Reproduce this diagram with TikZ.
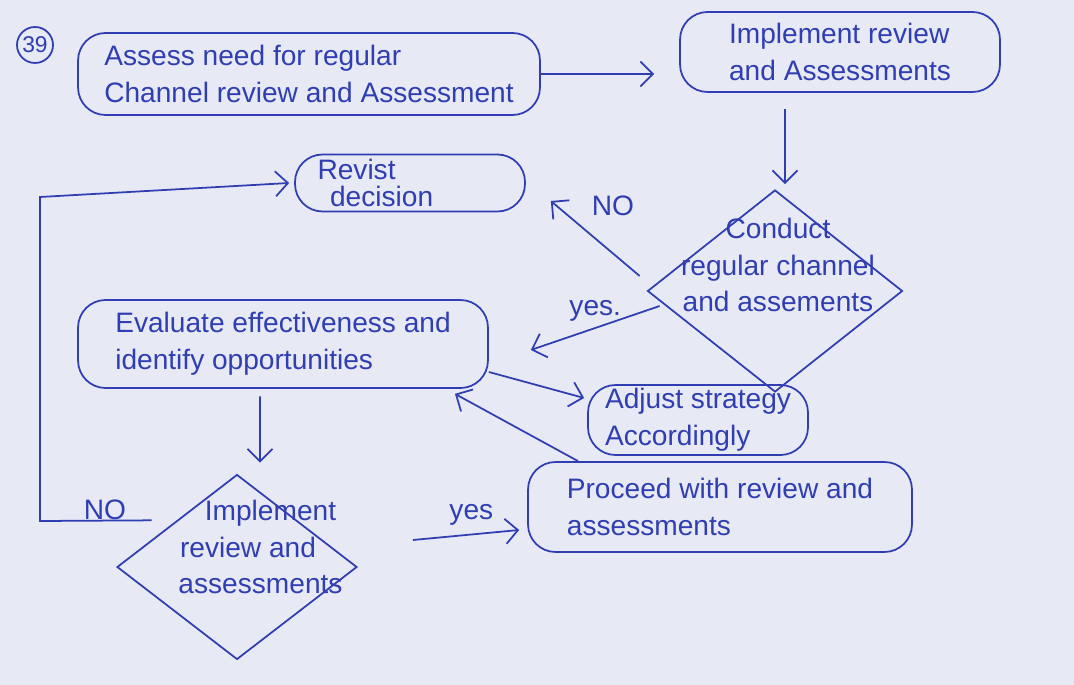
\documentclass[tikz,border=0pt]{standalone}
\usepackage{fontspec}
\setmainfont{Liberation Sans}
\usetikzlibrary{arrows.meta,shapes.geometric}
\definecolor{ink}{RGB}{48,62,178}
\definecolor{paper}{RGB}{231,233,245}

\begin{document}
\begin{tikzpicture}[x=0.02cm,y=-0.02cm,font=\fontsize{16}{21}\selectfont,
  box/.style={draw=ink,text=ink,line width=1pt,rounded corners=0.55cm,align=left,inner sep=0pt},
  decide/.style={draw=ink,diamond,line width=1pt,inner sep=0pt},
  lbl/.style={text=ink},
  arr/.style={draw=ink,line width=1pt,-{Straight Barb[length=2.5mm,width=5mm]}}]
\fill[paper] (0,0) rectangle (1074,685);
\useasboundingbox (0,0) rectangle (1074,685);
\node[draw=ink,circle,lbl,line width=1pt,inner sep=1pt,minimum size=0.72cm,font=\fontsize{13}{15}\selectfont] (num) at (35,45) {39};
\node[box,minimum width=9.24cm,minimum height=1.64cm] (assess) at (309,74) {Assess need for regular\\Channel review and Assessment};
\node[box,minimum width=6.4cm,minimum height=1.6cm] (impl) at (840,52) {Implement review\\and Assessments};
\node[box,minimum height=1.14cm,text width=3.7cm,inner xsep=0.45cm,font=\fontsize{16}{15}\selectfont] (rev) at (410,183) {Revist\\\hspace*{0.25cm}decision};
\node[decide,minimum width=5.1cm,minimum height=4.04cm] (cond) at (775,291) {};
\node[lbl,align=center] (condtxt) at (778,265) {Conduct\\regular channel\\and assements};
\node[box,minimum width=8.2cm,minimum height=1.76cm] (eval) at (283,344) {Evaluate effectiveness and\\identify opportunities};
\node[box,minimum width=4.4cm,minimum height=1.4cm] (adj) at (698,420) {Adjust strategy\\Accordingly};
\node[box,minimum width=7.68cm,minimum height=1.8cm] (proc) at (720,507) {Proceed with review and\\assessments};
\node[decide,minimum width=4.8cm,minimum height=3.7cm] (dec) at (237,567) {};
\node[lbl,align=center] (dectxt) at (248,547) {\hspace*{0.9cm}Implement\\review and\\\hspace*{0.5cm}assessments};
% connectors
\draw[arr] (assess.east) -- ([xshift=-0.5cm]assess.east -| impl.west);
\draw[arr] ([xshift=0.2cm,yshift=-0.32cm]impl.south -| cond.north) -- ([xshift=0.2cm,yshift=0.1cm]cond.north);
\draw[arr] ([xshift=-0.14cm,yshift=0.3cm]cond.west) -- ([xshift=0.5cm,yshift=-0.36cm]rev.east)
  node[lbl,pos=0.3,above,yshift=0.62cm] (no1) {NO};
\draw[arr] ([xshift=0.26cm,yshift=-0.3cm]cond.west) -- ([xshift=0.84cm,yshift=-0.12cm]eval.east)
  node[lbl,pos=0.5,above] (yes1) {yes.};
\draw[arr] ([yshift=-0.56cm]eval.east) -- ([xshift=-0.06cm,yshift=0.44cm]adj.west);
\draw[arr] ([xshift=-2.84cm]proc.north) -- ([xshift=3.44cm,yshift=-0.1cm]eval.south);
\draw[arr] ([xshift=-0.46cm,yshift=-0.15cm]eval.south) -- ([xshift=0.46cm,yshift=0.22cm]dec.north);
\draw[arr] ([xshift=1.1cm,yshift=0.54cm]dec.east) -- ([xshift=-0.16cm,yshift=-0.46cm]proc.west)
  node[lbl,pos=0.55,above,yshift=0.05cm] (yes2) {yes};
\coordinate (nobot) at (40,521);
\coordinate (notop) at (40,197);
\draw[arr] ([xshift=-0.5cm]dec.north west) -- (nobot) -- (notop) -- ([xshift=-0.1cm]rev.west);
\node[lbl] (no2) at (105,510) {NO};
\end{tikzpicture}
\end{document}
